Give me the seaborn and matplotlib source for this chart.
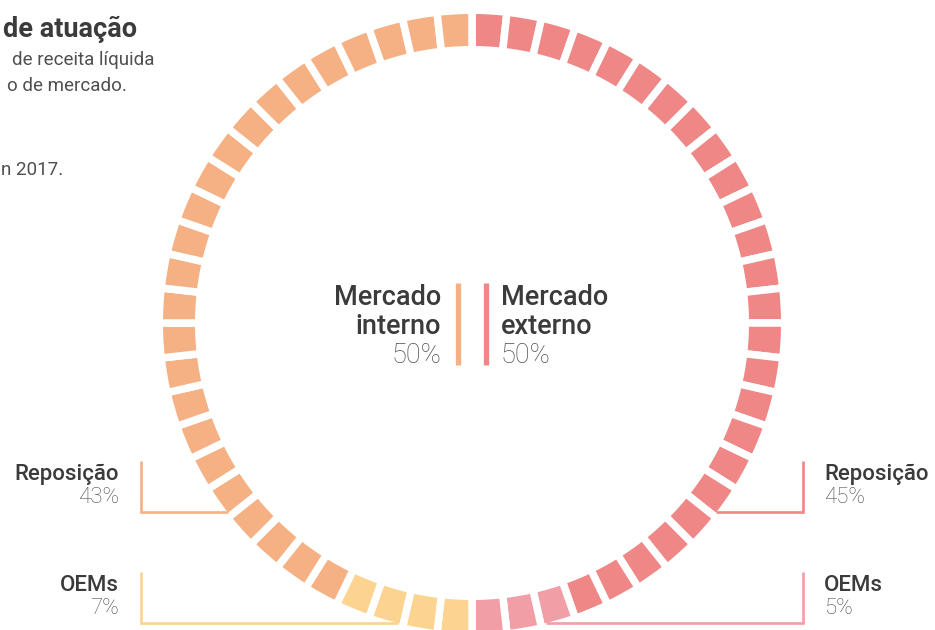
import numpy as np
import matplotlib
matplotlib.use('Agg')
import matplotlib.pyplot as plt
import seaborn as sns

# dados
mercados = ['Mercado\ninterno', 'Mercado\nexterno']
mercado_pct = [50, 50]
segmentos = ['Reposição', 'OEMs', 'OEMs', 'Reposição']     # externo (sentido horario), depois interno
segmento_pct = [45, 5, 7, 43]
segmento_lado = ['externo', 'externo', 'interno', 'interno']
n_blocos = 56

cores = sns.color_palette(['#EF8787', '#F19EA7', '#FCD38F', '#F5B183'])
cor_interno = '#F5B183'
cor_externo = '#EF8787'
texto_escuro = '#3b3b3b'
texto_claro = '#4f4f4f'

sns.set_theme(style='white')
plt.rcParams['font.family'] = ['Roboto', 'DejaVu Sans']

W, H = 935, 630
fig = plt.figure(figsize=(W / 100, H / 100), dpi=100)
ax = fig.add_axes([0, 0, 1, 1])

def Y(y):
    return H - y

# anel de blocos
cx, cy = 472, Y(323)
R, largura = 309, 32
gap_px = 7.5
lw = gap_px * 72 / 100

blocos = [round(p * n_blocos / 100) for p in segmento_pct]
cores_blocos = []
for c, n in zip(cores, blocos):
    cores_blocos += [c] * n
ax.pie(np.ones(len(cores_blocos)), colors=cores_blocos, startangle=90, counterclock=False,
       radius=R + gap_px / 2, center=(cx, cy),
       wedgeprops=dict(width=largura + gap_px, edgecolor='white', linewidth=lw, joinstyle='miter'))

ax.set_xlim(0, W)
ax.set_ylim(0, H)
ax.set_aspect('equal')
ax.axis('off')

# titulo (cortado na borda)
ax.text(137, Y(37), 'de atuação', ha='right', va='baseline', fontsize=19.5, fontweight='bold',
        color=texto_escuro)
for txt, xr, yb in [('de receita líquida', 154, 65), ('o de mercado.', 127, 91), ('n 2017.', 63, 175)]:
    ax.text(xr, Y(yb), txt, ha='right', va='baseline', fontsize=13.5, fontweight='normal',
            color=texto_claro)

# centro
fs_c = 19.5
nome_i = mercados[0].split('\n')
nome_e = mercados[1].split('\n')
for k, t in enumerate(nome_i):
    ax.text(441, Y(305 + 29 * k), t, ha='right', va='baseline', fontsize=fs_c,
            fontweight='medium', color=texto_escuro)
ax.text(441, Y(363), f'{mercado_pct[0]}%', ha='right', va='baseline', fontsize=fs_c,
        fontweight='light', color=texto_claro)
for k, t in enumerate(nome_e):
    ax.text(501, Y(305 + 29 * k), t, ha='left', va='baseline', fontsize=fs_c,
            fontweight='medium', color=texto_escuro)
ax.text(501, Y(363), f'{mercado_pct[1]}%', ha='left', va='baseline', fontsize=fs_c,
        fontweight='light', color=texto_claro)
ax.plot([457.5, 457.5], [Y(283), Y(365)], color=cor_interno, lw=3.8, solid_capstyle='butt')
ax.plot([486, 486], [Y(283), Y(365)], color=cor_externo, lw=3.8, solid_capstyle='butt')

# rotulos inferiores com chaves
linha_y = {'Reposição': 512, 'OEMs': 623}
fs_l = 16
for nome, pct, lado, cor in zip(segmentos, segmento_pct, segmento_lado, cores):
    yl = linha_y[nome]
    dy = yl - 323
    dx = np.sqrt(R ** 2 - dy ** 2)
    if lado == 'interno':
        xv, xe, xt, ha = 141, cx - dx, 119, 'right'
    else:
        xv, xe, xt, ha = 803, cx + dx, 824, 'left'
    ax.plot([xv, xv, xe], [Y(yl - 51), Y(yl), Y(yl)], color=cor, lw=1.9,
            solid_joinstyle='miter', solid_capstyle='butt')
    ax.text(xt, Y(yl - 32), nome, ha=ha, va='baseline', fontsize=fs_l,
            fontweight='medium', color=texto_escuro)
    ax.text(xt, Y(yl - 9), f'{pct}%', ha=ha, va='baseline', fontsize=fs_l,
            fontweight='light', color=texto_claro)

fig.savefig('out.png', dpi=100, facecolor='white')
